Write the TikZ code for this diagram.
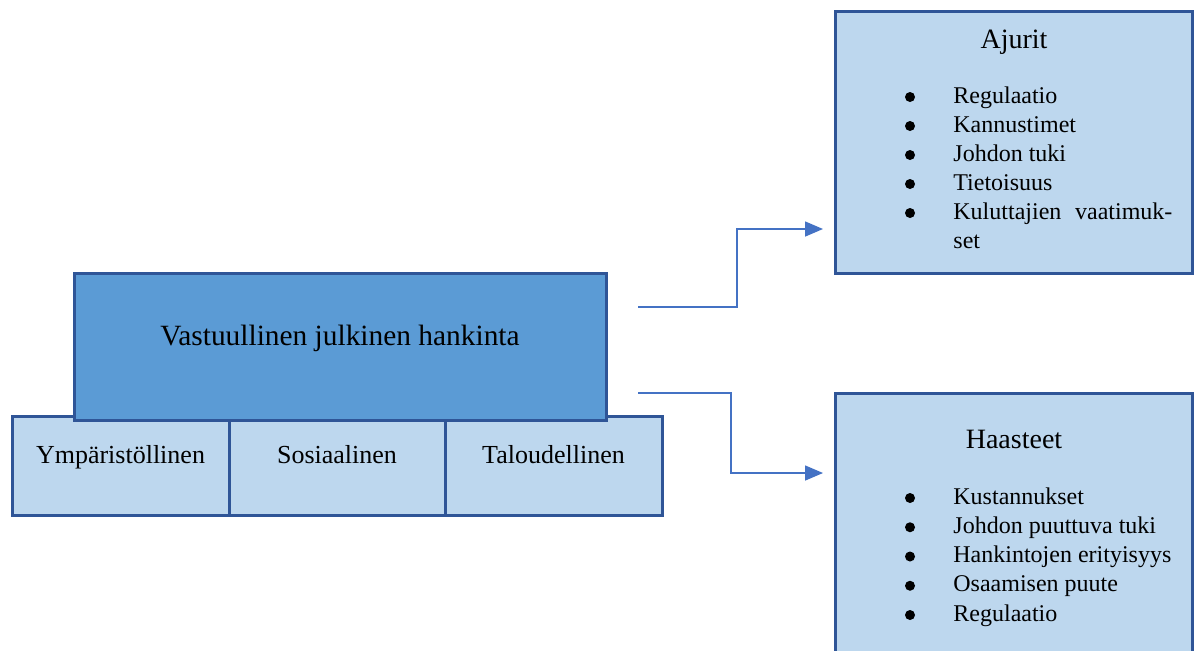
\documentclass[tikz,border=0pt]{standalone}
\usepackage{fontspec}
\setmainfont{Liberation Serif}
\usetikzlibrary{positioning}
\usetikzlibrary{arrows.meta}
\definecolor{reuna}{HTML}{2F5597}
\definecolor{tumma}{HTML}{5B9BD5}
\definecolor{vaalea}{HTML}{BDD7EE}
\definecolor{nuoli}{HTML}{4472C4}

\begin{document}
\begin{tikzpicture}
      [
        x = 0.5pt, y = -0.5pt,
        laatikko/.style = {draw = reuna, line width = 1.5pt, fill = vaalea, inner sep = 0pt},
        alalaatikko/.style = {laatikko, minimum height = 49.5pt},
        teksti/.style = {anchor = base, inner sep = 0pt, font = \fontsize{13}{15}\selectfont},
        otsikko/.style = {anchor = base, inner sep = 0pt, font = \fontsize{14}{17}\selectfont},
        kohta/.style = {anchor = base west, inner sep = 0pt, font = \fontsize{12}{14}\selectfont},
        pallo/.style = {circle, fill = black, inner sep = 0pt, minimum size = 5pt},
        yhteys/.style = {draw = nuoli, line width = 0.8pt, -{Triangle[length = 9pt, width = 7.5pt]}}
      ]

      \useasboundingbox (0,0) rectangle (1198,650);
      \clip (0,0) rectangle (1198,650);

      \node[alalaatikko, minimum width = 108.5pt] (ymparisto) at (120.5,465.5) {};
      \node[alalaatikko, minimum width = 108pt] (sosiaali) at (337,465.5) {};
      \node[alalaatikko, minimum width = 108.5pt] (talous) at (553.5,465.5) {};
      \node[laatikko, fill = tumma, minimum width = 266pt, minimum height = 73.5pt] (hankinta) at (340,346.5) {};

      \node[teksti, font = \fontsize{14.7}{17}\selectfont] (hankinta-teksti) at (340,345) {Vastuullinen julkinen hankinta};
      \node[teksti] (ymparisto-teksti) at (120.5,463) {Ympäristöllinen};
      \node[teksti] (sosiaali-teksti) at (337,463) {Sosiaalinen};
      \node[teksti] (talous-teksti) at (553.5,463) {Taloudellinen};

      \node[laatikko, minimum width = 178.5pt, minimum height = 131pt] (ajurit) at (1014,142) {};
      \node[laatikko, minimum width = 178.5pt, minimum height = 150pt] (haasteet) at (1014,543) {};

      \node[otsikko] (ajurit-otsikko) at (1014,48) {Ajurit};
      \node[otsikko] (haasteet-otsikko) at (1014,448) {Haasteet};

      \foreach \kohdeteksti [count = \i] in {Regulaatio, Kannustimet, Johdon tuki, Tietoisuus,
          {\makebox[109.5pt][s]{Kuluttajien vaatimuk-}}}
        {
          \node[kohta] (ajuri-\i) at (953,{103+29*(\i-1)}) {\kohdeteksti};
          \node[pallo] (ajuri-pallo-\i) at (910,{97+29*(\i-1)}) {};
        }
      \node[kohta] (ajuri-jatko) at (953,248) {set};

      \foreach \kohdeteksti [count = \i] in {Kustannukset, Johdon puuttuva tuki, Hankintojen erityisyys,
          Osaamisen puute, Regulaatio}
        {
          \node[kohta] (haaste-\i) at (953,{504+29.25*(\i-1)}) {\kohdeteksti};
          \node[pallo] (haaste-pallo-\i) at (910,{498+29.25*(\i-1)}) {};
        }

      \coordinate (ylos-alku) at (638,307);
      \coordinate (ylos-loppu) at (823,229);
      \coordinate (alas-alku) at (638,393);
      \coordinate (alas-loppu) at (823,473);

      \draw[yhteys] (ylos-alku) -- ++(99,0) |- (ylos-loppu);
      \draw[yhteys] (alas-alku) -- ++(93,0) |- (alas-loppu);

    \end{tikzpicture}
\end{document}
